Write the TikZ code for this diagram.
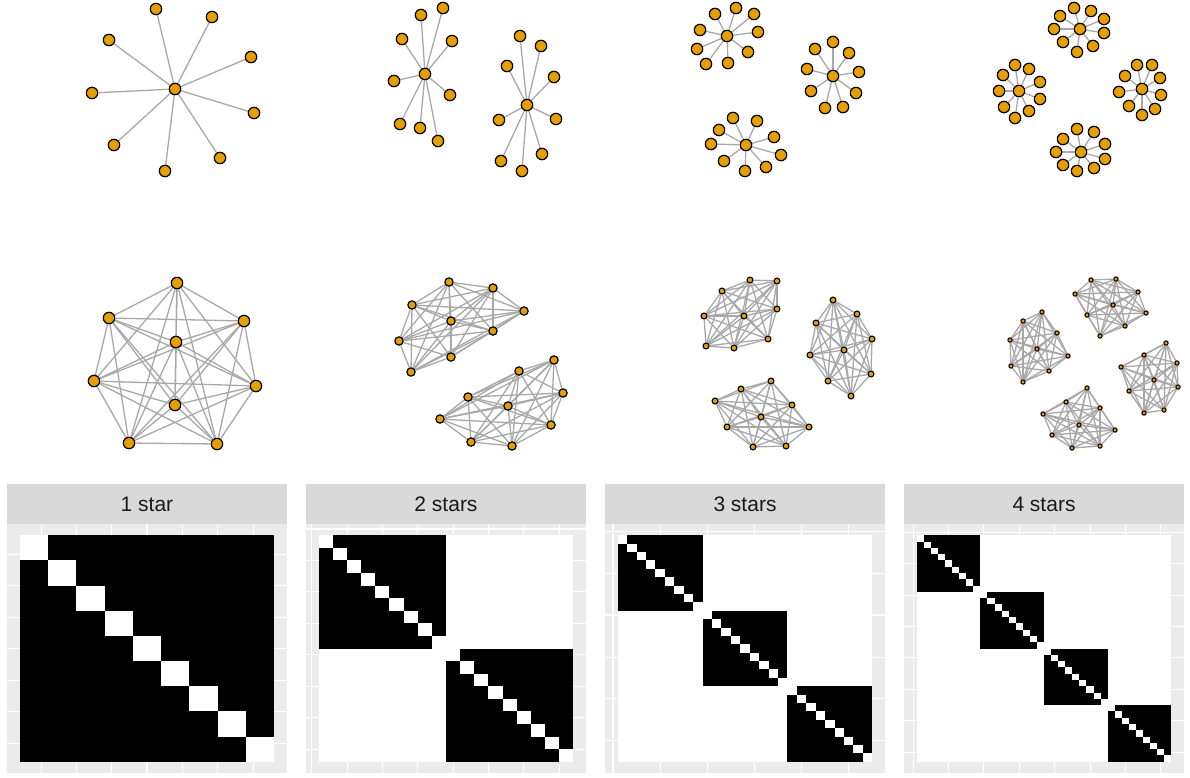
\documentclass[tikz,border=0pt]{standalone}
\usepackage{fontspec}
\newfontfamily\arialf{Liberation Sans}
\pgfdeclarelayer{bg}
\pgfdeclarelayer{edges}
\pgfsetlayers{bg,edges,main}
\definecolor{nodeorange}{HTML}{E69F00}
\definecolor{edgegray}{HTML}{A8A8A8}
\definecolor{stripgray}{HTML}{D9D9D9}
\definecolor{panelgray}{HTML}{EBEBEB}
\definecolor{striptxt}{HTML}{1A1A1A}
\tikzset{
  ndbase/.style={circle, fill=nodeorange, draw=black, inner sep=0pt},
  ndA/.style={ndbase, line width=1.2pt, minimum size=11.4pt},
  ndB/.style={ndbase, line width=1.2pt, minimum size=8.3pt},
  ndC/.style={ndbase, line width=1.1pt, minimum size=5.9pt},
  ndD/.style={ndbase, line width=1.05pt, minimum size=4.3pt},
  edge/.style={draw=edgegray, line width=1.3pt},
  majorgrid/.style={draw=white, line width=1.1pt},
  minorgrid/.style={draw=white, line width=0.55pt},
  striptext/.style={font=\arialf\fontsize{21}{25}\selectfont, text=striptxt, inner sep=0pt}
}
% star graph: #1 prefix, #2 cx, #3 cy, #4 leaves
\newcommand\stargraph[4]{%
  \node[ndA] (#1c) at (#2,#3) {};
  \foreach \x/\y [count=\i] in {#4} {%
    \node[ndA] (#1l\i) at (\x,\y) {};
    \begin{pgfonlayer}{edges}\draw[edge] (#1c) -- (#1l\i);\end{pgfonlayer}
  }%
}
% complete graph K9: #1 prefix, #2 style, #3 list
\newcommand\kgraph[3]{%
  \foreach \x/\y [count=\i] in {#3} {\node[#2] (#1\i) at (\x,\y) {};}
  \begin{pgfonlayer}{edges}
  \foreach \i in {1,...,8} {\foreach \j in {2,...,9} {\ifnum\j>\i \draw[edge] (#1\i) -- (#1\j);\fi}}
  \end{pgfonlayer}
}
% matrix panel: #1 x0, #2 k, #3 label, #4 major, #5 minor
\newcommand\matpanel[5]{%
  \pgfmathsetmacro\NN{9*#2}
  \pgfmathsetmacro\ux{280/(1.1*\NN)}
  \pgfmathsetmacro\uy{249/(1.1*\NN)}
  \pgfmathsetmacro\off{0.05*\NN-0.5}
  \pgfmathsetmacro\lo{-\off}
  \pgfmathsetmacro\hi{\NN+1+\off}
  \fill[stripgray] (#1,484) rectangle ++(280,40);
  \node[striptext] (strip#2) at (#1+140,504) {#3};
  \fill[panelgray] (#1,524) rectangle ++(280,249);
  \begin{scope}[shift={(#1,524)}, x=\ux pt, y=-\uy pt, shift={(\off,\off)}]
    \foreach \b in {#5} {\draw[minorgrid] (\b,\lo) -- (\b,\hi); \draw[minorgrid] (\lo,\b) -- (\hi,\b);}
    \foreach \b in {#4} {\draw[majorgrid] (\b,\lo) -- (\b,\hi); \draw[majorgrid] (\lo,\b) -- (\hi,\b);}
    \fill[white] (0.5,0.5) rectangle (\NN+0.5,\NN+0.5);
    \foreach \c in {1,...,#2} {
      \pgfmathsetmacro\s{9*(\c-1)}
      \fill[black] (\s+0.5,\s+0.5) rectangle ++(9,9);
      \foreach \d in {1,...,9} {\fill[white] (\s+\d-0.5,\s+\d-0.5) rectangle ++(1,1);}
    }
  \end{scope}
}
\begin{document}
\begin{tikzpicture}[x=1pt,y=-1pt]
\begin{pgfonlayer}{bg}
\fill[white] (0,0) rectangle (1190,777);
\end{pgfonlayer}
\useasboundingbox (0,0) rectangle (1190,777);
% ---------- top row: stars ----------
\stargraph{t1a}{175}{89}{156/9, 212/17, 109/40, 251/57, 92/93, 254/113, 114/145, 220/158, 165/171}
\stargraph{t2a}{425}{74}{421/15, 443/8, 402/39, 452/41, 394/81, 450/95, 400/124, 420/128, 438/141}
\stargraph{t2b}{527}{105}{520/36, 541/46, 507/66, 554/77, 499/120, 556/119, 501/161, 522/171, 542/154}
\stargraph{t3a}{727}{36}{715/14, 736/8, 754/14, 700/30, 758/32, 697/49, 748/52, 706/64, 728/63}
\stargraph{t3b}{833}{76}{833/42, 815/49, 849/53, 807/69, 859/72, 811/91, 856/93, 825/108, 843/107}
\stargraph{t3c}{746}{145}{733/118, 757/121, 719/130, 774/137, 711/144, 781/155, 724/161, 766/167, 745/171}
\stargraph{t4a}{1080}{29}{1060/16, 1074/8, 1091/11, 1104/19, 1054/29, 1104/33, 1063/42, 1093/46, 1077/52}
\stargraph{t4b}{1019}{91}{1015/65, 1029/69, 1003/75, 1040/82, 999/91, 1040/99, 1004/107, 1029/111, 1015/118}
\stargraph{t4c}{1142}{89}{1137/65, 1152/65, 1125/76, 1160/78, 1119/92, 1161/95, 1129/106, 1155/109, 1142/115}
\stargraph{t4d}{1081}{152}{1077/129, 1094/132, 1063/139, 1105/144, 1056/152, 1105/159, 1063/165, 1094/168, 1077/171}
% ---------- middle row: complete graphs ----------
\kgraph{m1a}{ndA}{177/283, 109/318, 244/321, 176/342, 94/381, 256/386, 175/405, 129/443, 217/444}
\kgraph{m2a}{ndB}{449/282, 493/288, 412/305, 524/311, 451/321, 493/331, 399/341, 451/357, 411/372}
\kgraph{m2b}{ndB}{554/360, 519/371, 563/393, 468/397, 508/406, 440/419, 551/425, 471/442, 512/446}
\kgraph{m3a}{ndC}{750/280, 777/281, 722/291, 704/316, 744/316, 777/309, 768/339, 706/346, 734/348}
\kgraph{m3b}{ndC}{833/300, 857/314, 816/323, 872/339, 844/350, 810/355, 871/374, 828/381, 851/396}
\kgraph{m3c}{ndC}{771/381, 741/389, 715/401, 792/405, 761/417, 727/427, 809/427, 753/447, 786/446}
\kgraph{m4a}{ndD}{1091/280, 1116/279, 1075/294, 1138/292, 1113/305, 1087/315, 1146/313, 1125/326, 1100/336}
\kgraph{m4b}{ndD}{1042/312, 1023/321, 1057/333, 1010/340, 1037/349, 1068/356, 1011/366, 1049/371, 1023/382}
\kgraph{m4c}{ndD}{1166/343, 1144/355, 1177/363, 1121/367, 1154/380, 1178/387, 1129/391, 1164/410, 1144/413}
\kgraph{m4d}{ndD}{1087/388, 1066/402, 1100/408, 1043/414, 1079/425, 1115/430, 1052/435, 1072/448, 1100/446}
% ---------- bottom row: adjacency matrices ----------
\matpanel{7}{1}{1 star}{2.5,5,7.5}{1.25,3.75,6.25,8.75}
\matpanel{306}{2}{2 stars}{0,5,10,15}{2.5,7.5,12.5,17.5}
\matpanel{605}{3}{3 stars}{0,10,20}{5,15,25}
\matpanel{904}{4}{4 stars}{0,10,20,30}{5,15,25,35}
\end{tikzpicture}
\end{document}
